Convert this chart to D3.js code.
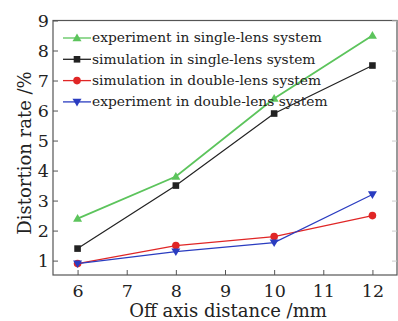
<!DOCTYPE html>
<html lang="en">
<head>
<meta charset="UTF-8">
<title>Distortion rate vs off axis distance</title>
<script src="https://cdn.jsdelivr.net/npm/d3@7"></script>
<style>
    body { margin: 0; background: #fff; }
    svg { display: block; }
    text { font-family: "DejaVu Serif", "Liberation Serif", serif; fill: #222; }
</style>
</head>
<body>
<svg id="chart" width="398" height="321"></svg>
<script>
    // data
    const offsets = [6, 8, 10, 12];
    const expSingle = [2.4, 3.8, 6.4, 8.5];
    const simSingle = [1.4, 3.5, 5.9, 7.5];
    const simDouble = [0.9, 1.5, 1.8, 2.5];
    const expDouble = [0.9, 1.3, 1.6, 3.2];
    const seriesNames = [
        "experiment in single-lens system",
        "simulation in single-lens system",
        "simulation in double-lens system",
        "experiment in double-lens system"
    ];
    const xTicks = [6, 7, 8, 9, 10, 11, 12];
    const yTicks = [1, 2, 3, 4, 5, 6, 7, 8, 9];

    const series = [
        {name: seriesNames[0], values: expSingle, color: "#5cc45c", symbol: "triUp"},
        {name: seriesNames[1], values: simSingle, color: "#222222", symbol: "square"},
        {name: seriesNames[2], values: simDouble, color: "#e02626", symbol: "circle"},
        {name: seriesNames[3], values: expDouble, color: "#2a3cc0", symbol: "triDown"}
    ];

    const plotLeft = 53, plotRight = 397, plotTop = 20.5, plotBottom = 275;
    const svg = d3.select("#chart");

    const x = d3.scaleLinear().domain([5.5, 12.5]).range([plotLeft, plotRight]);
    const y = d3.scaleLinear().domain([0.52, 9]).range([plotBottom, plotTop]);

    // frame
    svg.append("rect")
        .attr("x", plotLeft).attr("y", plotTop)
        .attr("width", plotRight - plotLeft).attr("height", plotBottom - plotTop)
        .attr("fill", "none").attr("stroke", "#555").attr("stroke-width", 1.2);

    // axes with inward ticks
    const xAxis = svg.append("g").attr("transform", `translate(0,${plotBottom})`)
        .call(d3.axisBottom(x).tickValues(xTicks).tickFormat(d3.format("d"))
            .tickSizeInner(-5).tickSizeOuter(0).tickPadding(10));
    const yAxis = svg.append("g").attr("transform", `translate(${plotLeft},0)`)
        .call(d3.axisLeft(y).tickValues(yTicks).tickFormat(d3.format("d"))
            .tickSizeInner(-5).tickSizeOuter(0).tickPadding(4));
    // faint mirrored ticks on the right side
    svg.append("g").attr("transform", `translate(${plotRight},0)`)
        .call(d3.axisRight(y).tickValues(yTicks).tickSizeInner(-5).tickSizeOuter(0).tickFormat(""))
        .call(g => g.selectAll("line").attr("stroke", "#ccc"));

    [xAxis, yAxis].forEach(g => {
        g.selectAll("line").attr("stroke", "#555");
        g.selectAll("text").attr("font-size", 17.5).attr("fill", "#222")
            .attr("font-family", "'DejaVu Serif', serif");
    });
    yAxis.selectAll("text").attr("dy", "0.36em");
    svg.selectAll(".domain").remove();

    // axis titles
    svg.append("text")
        .attr("x", 228).attr("y", 317)
        .attr("text-anchor", "middle").attr("font-size", 18)
        .text("Off axis distance /mm");
    svg.append("text")
        .attr("transform", "translate(31,153) rotate(-90)")
        .attr("text-anchor", "middle").attr("font-size", 18)
        .text("Distortion rate /%");

    function drawSymbol(g, kind, cx, cy, color) {
        if (kind === "square") {
            g.append("rect").attr("x", cx - 3.3).attr("y", cy - 3.3)
                .attr("width", 6.6).attr("height", 6.6).attr("fill", color);
        } else if (kind === "circle") {
            g.append("circle").attr("cx", cx).attr("cy", cy).attr("r", 3.8).attr("fill", color);
        } else {
            const s = kind === "triUp" ? 1 : -1;
            g.append("path")
                .attr("d", `M${cx},${cy - 4.5 * s}L${cx + 4.5},${cy + 3.2 * s}L${cx - 4.5},${cy + 3.2 * s}Z`)
                .attr("fill", color);
        }
    }

    const line = d3.line().x((d, i) => x(offsets[i])).y(d => y(d));

    series.forEach(s => {
        const g = svg.append("g");
        g.append("path").datum(s.values)
            .attr("d", line)
            .attr("fill", "none").attr("stroke", s.color)
            .attr("stroke-width", s.symbol === "triUp" ? 1.8 : 1.2);
        s.values.forEach((v, i) => drawSymbol(g, s.symbol, x(offsets[i]), y(v), s.color));
    });

    // legend
    const legend = svg.append("g");
    series.forEach((s, i) => {
        const ly = 38 + i * 21.3;
        legend.append("line").attr("x1", 63).attr("x2", 91).attr("y1", ly).attr("y2", ly)
            .attr("stroke", s.color).attr("stroke-width", 1.3);
        drawSymbol(legend, s.symbol, 77, ly, s.color);
        legend.append("text").attr("x", 92).attr("y", ly).attr("dy", "0.32em")
            .attr("font-size", 13.8).text(s.name);
    });
</script>
</body>
</html>
